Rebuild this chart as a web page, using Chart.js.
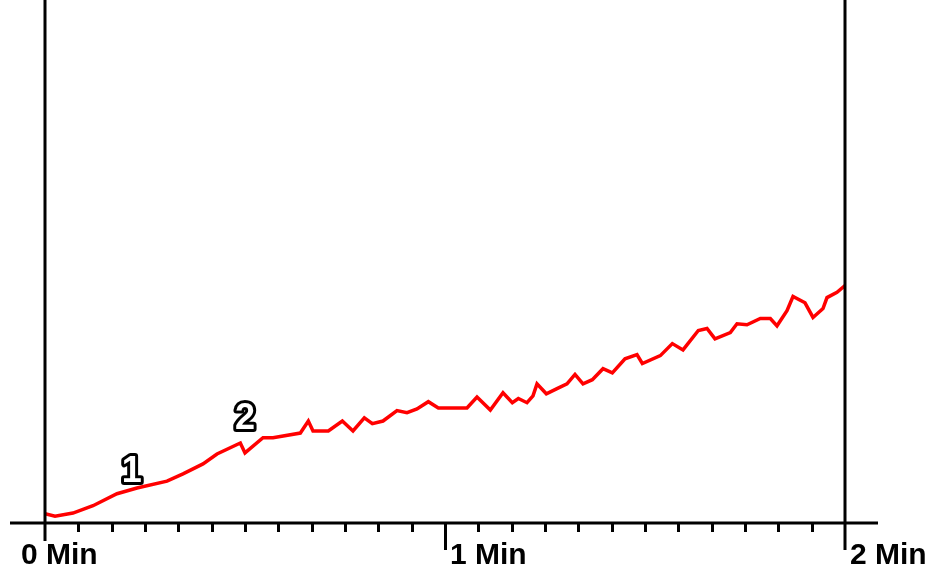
<!DOCTYPE html>
<html>
<head>
<meta charset="utf-8">
<script src="https://cdn.jsdelivr.net/npm/chart.js@4/dist/chart.umd.min.js"></script>
<style>
  html, body { margin: 0; padding: 0; background: #fff; }
  #wrap { width: 936px; height: 572px; position: relative; }
</style>
</head>
<body>
<div id="wrap"><canvas id="myChart"></canvas></div>
<script>
/* 曲线数据: 时间(秒) 与 数值(相对高度) */
var times = [0, 1.5, 4.2, 7.2, 10.8, 13.8, 18.3, 20.7, 23.7, 25.8, 29.3, 30.0, 32.7, 34.2,
  38.3, 39.5, 40.2, 42.5, 44.6, 46.2, 47.9, 49.1, 50.7, 52.8, 54.3, 55.8, 57.5, 59.0,
  63.3, 64.8, 66.8, 68.7, 70.1, 71.0, 72.3, 73.2, 73.8, 75.2, 76.8, 78.3, 79.5, 80.7,
  82.1, 83.7, 85.1, 87.0, 88.8, 89.6, 92.3, 94.1, 95.7, 98.0, 99.3, 100.5, 102.8, 103.8,
  105.3, 107.3, 108.8, 109.8, 111.3, 112.2, 114.0, 115.2, 116.7, 117.3, 118.8, 120];
var values = [1.8, 1.3, 1.9, 3.3, 5.6, 6.7, 8.0, 9.4, 11.3, 13.2, 15.3, 13.4, 16.3, 16.3,
  17.2, 19.5, 17.6, 17.6, 19.5, 17.6, 20.1, 19.0, 19.5, 21.5, 21.1, 21.8, 23.2, 22.0,
  22.0, 24.1, 21.6, 24.9, 23.0, 23.8, 23.0, 24.3, 26.6, 24.7, 25.7, 26.6, 28.4, 26.6,
  27.4, 29.5, 28.7, 31.4, 32.2, 30.5, 32.0, 34.3, 33.1, 36.8, 37.2, 35.2, 36.4, 38.1,
  37.9, 39.1, 39.1, 37.7, 40.6, 43.3, 42.1, 39.3, 41.0, 43.1, 44.1, 45.4];

/* 刻度 */
var majorTicks = [0, 60, 120];
var tickLabels = ['0 Min', '1 Min', '2 Min'];
var minorStep = 5;

/* 事件标记 */
var markerLabels = ['1', '2'];
var markerTimes = [13.0, 30.0];
var markerValues = [9.8, 19.8];

var points = times.map(function (t, i) { return { x: t, y: values[i] }; });

/* 坐标轴和标记，用图表自己的比例尺画 */
var axesPlugin = {
  id: 'oldAxes',
  afterDatasetsDraw: function (chart) {
    var c = chart.ctx, xs = chart.scales.x, ys = chart.scales.y;
    var y0 = ys.getPixelForValue(0);
    c.save();
    c.strokeStyle = '#000';
    c.lineWidth = 3;
    c.lineCap = 'butt';
    // 横轴
    c.beginPath();
    c.moveTo(10, y0);
    c.lineTo(878, y0);
    c.stroke();
    // 竖线
    var xl = xs.getPixelForValue(0), xr = xs.getPixelForValue(120);
    c.beginPath();
    c.moveTo(xl, 0); c.lineTo(xl, y0 + 18);
    c.moveTo(xr, 0); c.lineTo(xr, y0 + 27);
    c.stroke();
    // 小刻度
    c.beginPath();
    for (var t = minorStep; t < 120; t += minorStep) {
      var px = Math.round(xs.getPixelForValue(t)) + 0.5;
      var len = (t % 60 === 0) ? 27 : 9;
      c.moveTo(px, y0);
      c.lineTo(px, y0 + len);
    }
    c.stroke();
    // 刻度文字
    c.fillStyle = '#000';
    c.font = '600 30px "Liberation Sans", Arial, sans-serif';
    c.textAlign = 'left';
    c.textBaseline = 'alphabetic';
    majorTicks.forEach(function (t, i) {
      var px = xs.getPixelForValue(t);
      c.fillText(tickLabels[i], i === 0 ? px - 24 : px + 5, 564);
    });
    // 事件标记
    c.font = 'bold 36px "Liberation Sans", Arial, sans-serif';
    c.textAlign = 'center';
    c.textBaseline = 'middle';
    c.lineJoin = 'round';
    markerLabels.forEach(function (lab, i) {
      var mx = xs.getPixelForValue(markerTimes[i]);
      var my = ys.getPixelForValue(markerValues[i]);
      c.lineWidth = 6;
      c.strokeStyle = '#000';
      c.strokeText(lab, mx, my);
      c.fillStyle = '#fff';
      c.fillText(lab, mx, my);
    });
    c.restore();
  }
};

var ctx = document.getElementById('myChart').getContext('2d');
var myChart = new Chart(ctx, {
  type: 'line',
  data: {
    datasets: [{
      data: points,
      borderColor: '#ff0000',
      borderWidth: 3.5,
      pointRadius: 0,
      tension: 0,
      fill: false
    }]
  },
  options: {
    responsive: true,
    maintainAspectRatio: false,
    animation: false,
    layout: {
      padding: { left: 45, right: 91, top: 0, bottom: 49 }
    },
    plugins: {
      legend: { display: false },
      tooltip: { enabled: false }
    },
    scales: {
      x: { type: 'linear', min: 0, max: 120, display: false },
      y: { min: 0, max: 100, display: false }
    }
  },
  plugins: [axesPlugin]
});
</script>
</body>
</html>
